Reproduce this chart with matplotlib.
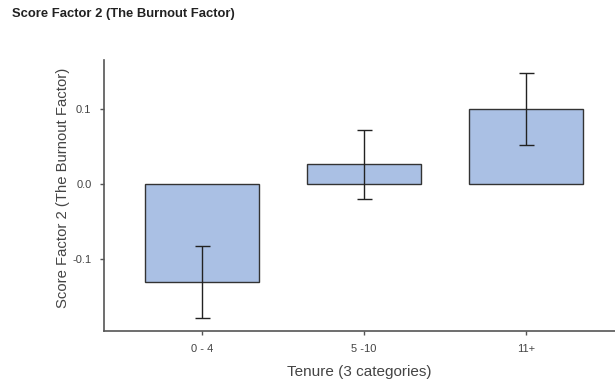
import matplotlib
matplotlib.use("Agg")
import matplotlib.pyplot as plt

# data
categories = ["0 - 4", "5 -10", "11+"]
means = [-0.130, 0.027, 0.101]
errors = [0.048, 0.046, 0.048]

BAR_COLOR = "#aac0e4"
GREY = "#555555"

plt.rcParams["font.family"] = ["Liberation Sans", "DejaVu Sans"]

fig = plt.figure(figsize=(6.15, 3.79), dpi=100)
ax = fig.add_axes([0.169, 0.1266, 0.831, 0.7151])

pos = list(range(len(categories)))
ax.bar(pos, means, width=0.7, color=BAR_COLOR, edgecolor="#333333", linewidth=1.0)
ax.errorbar(pos, means, yerr=errors, fmt="none", ecolor="#222222",
            elinewidth=1.0, capsize=5.4, capthick=1.0)

ax.set_xlim(-0.605, 2.55)
ax.set_ylim(-0.1956, 0.1657)
ax.set_xticks(pos)
ax.set_xticklabels(categories)
ax.set_yticks([-0.1, 0.0, 0.1])
ax.set_yticklabels(["-0.1", "0.0", "0.1"])

for side in ["top", "right"]:
    ax.spines[side].set_visible(False)
for side in ["left", "bottom"]:
    ax.spines[side].set_color(GREY)
    ax.spines[side].set_linewidth(1.2)

ax.tick_params(axis="both", colors=GREY, labelcolor="#444444", labelsize=8,
               length=3, width=1.0, pad=6)

ax.set_xlabel("Tenure (3 categories)", fontsize=11, color="#444444", labelpad=8)
ax.set_ylabel("Score Factor 2 (The Burnout Factor)", fontsize=10.7, color="#444444")
ax.yaxis.set_label_coords(-0.066, 0.53)

fig.text(12 / 615, 1 - 14 / 379, "Score Factor 2 (The Burnout Factor)",
         fontsize=9.4, fontweight="bold", color="#222222", va="center", ha="left")

fig.savefig("out.png", dpi=100)
